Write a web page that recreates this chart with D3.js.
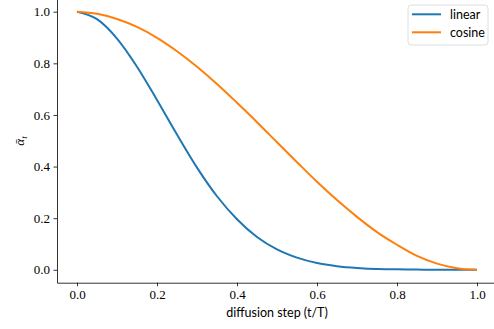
<!DOCTYPE html>
<html>
<head>
<meta charset="utf-8">
<style>
  body { margin: 0; background: #fff; }
  .tick text { font-family: "Liberation Serif", serif; font-size: 13px; fill: #000; }
  .tick line, .domain { stroke: #000; stroke-width: 0.8; }
  .lbl { font-family: "Lato", "DejaVu Sans", sans-serif; font-size: 12.5px; fill: #000; }
</style>
</head>
<body>
<svg width="494" height="329"></svg>
<script src="https://d3js.org/d3.v7.min.js"></script>
<script>
// values
var steps = [0, 0.05, 0.1, 0.15, 0.2, 0.25, 0.3, 0.35, 0.4, 0.45, 0.5,
             0.55, 0.6, 0.65, 0.7, 0.75, 0.8, 0.85, 0.9, 0.95, 1.0];
var linear = [1.0, 0.971, 0.896, 0.787, 0.658, 0.524, 0.396, 0.285, 0.196, 0.127, 0.079,
              0.047, 0.026, 0.014, 0.007, 0.003, 0.002, 0.001, 0.0, 0.0, 0.0];
var cosine = [1.0, 0.992, 0.972, 0.941, 0.899, 0.847, 0.787, 0.720, 0.647, 0.572, 0.494,
              0.417, 0.341, 0.270, 0.205, 0.146, 0.097, 0.054, 0.024, 0.006, 0.0];
var tickVals = [0, 0.2, 0.4, 0.6, 0.8, 1.0];
var seriesNames = ["linear", "cosine"];
var colors = ["#1f77b4", "#ff7f0e"];

var svg = d3.select("svg");

var x = d3.scaleLinear().domain([-0.05, 1.05]).range([57, 497]);
var y = d3.scaleLinear().domain([-0.05, 1.05]).range([282.7, -1.2]);

svg.append("g")
    .attr("transform", "translate(0,282.7)")
    .call(d3.axisBottom(x).tickValues(tickVals).tickFormat(d3.format(".1f"))
        .tickSize(3.5).tickSizeOuter(0).tickPadding(3.5));

svg.append("g")
    .attr("transform", "translate(57,0)")
    .call(d3.axisLeft(y).tickValues(tickVals).tickFormat(d3.format(".1f"))
        .tickSize(3.5).tickSizeOuter(0).tickPadding(3.5));

var line = d3.line()
    .x(function(d) { return x(d[0]); })
    .y(function(d) { return y(d[1]); })
    .curve(d3.curveMonotoneX);

[linear, cosine].forEach(function(vals, i) {
  svg.append("path")
      .datum(steps.map(function(s, j) { return [s, vals[j]]; }))
      .attr("fill", "none")
      .attr("stroke", colors[i])
      .attr("stroke-width", 2)
      .attr("d", line);
});

// axis labels
svg.append("text")
    .attr("class", "lbl")
    .attr("x", 277).attr("y", 317)
    .attr("text-anchor", "middle")
    .text("diffusion step (t/T)");

var yl = svg.append("text")
    .attr("transform", "translate(24,141) rotate(-90)")
    .attr("text-anchor", "middle")
    .style("font-family", "Liberation Serif, serif")
    .style("font-style", "italic")
    .style("font-size", "13px");
yl.append("tspan").text("\u03b1\u0304");
yl.append("tspan").attr("dy", 3).style("font-size", "9px").text("t");

// legend
var lg = svg.append("g");
lg.append("rect")
    .attr("x", 408).attr("y", 5).attr("width", 80).attr("height", 40)
    .attr("rx", 3)
    .attr("fill", "#fff").attr("fill-opacity", 0.8)
    .attr("stroke", "#d6d6d6").attr("stroke-width", 0.8);

var items = lg.selectAll(".item").data(seriesNames).enter().append("g")
    .attr("transform", function(d, i) { return "translate(0," + (14.3 + i * 18) + ")"; });
items.append("line")
    .attr("x1", 412).attr("x2", 441)
    .attr("stroke", function(d, i) { return colors[i]; })
    .attr("stroke-width", 2);
items.append("text")
    .attr("class", "lbl")
    .attr("x", 450).attr("dy", "0.35em")
    .text(function(d) { return d; });
</script>
</body>
</html>
